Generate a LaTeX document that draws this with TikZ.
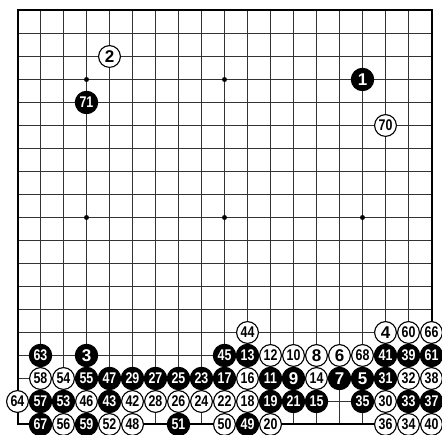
\documentclass[tikz,border=0pt]{standalone}
\usepackage{fontspec}
\setmainfont{Liberation Sans}
\newcommand\stonelabel[1]{\ifnum#1<10 \fontsize{17}{17}\selectfont#1\else\fontsize{15.5}{15.5}\selectfont\scalebox{0.8}[1]{#1}\fi}
\begin{document}
\begin{tikzpicture}[x=1pt,y=1pt,
  gridline/.style={line width=1pt,draw=black!80},
  border/.style={line width=2pt,draw=black},
  star/.style={circle,fill=black,inner sep=0pt,minimum size=5pt},
  bst/.style={circle,fill=black,draw=black,line width=0.8pt,minimum size=22.6pt,inner sep=0pt,text=white,font=\bfseries},
  wst/.style={circle,fill=white,draw=black,line width=1.1pt,minimum size=21.8pt,inner sep=0pt,text=black,font=\bfseries}]
\useasboundingbox (0,0) rectangle (442,435);
\fill[white] (0,0) rectangle (442,435);
% grid
\foreach \i in {1,...,17} {
  \draw[gridline] ({17.5+23*\i},10.5) -- ({17.5+23*\i},424.5);
}
\foreach \i in {1,...,17} {
  \draw[gridline] (17.5,{10.5+23*\i}) -- (431.5,{10.5+23*\i});
}
\draw[border] (17.5,10.5) rectangle (431.5,424.5);
% star points
\foreach \c/\r [count=\k] in {4/4,10/4,16/4,4/10,10/10,16/10,4/16,10/16,16/16}
  \node[star] (hoshi\k) at ({17.5+23*(\c-1)},{424.5-23*(\r-1)}) {};
% stones
\foreach \n/\c/\r/\s in {
 1/16/4/bst, 2/5/3/wst, 3/4/16/bst, 4/17/15/wst, 5/16/17/bst, 6/15/16/wst,
 7/15/17/bst, 8/14/16/wst, 9/13/17/bst, 10/13/16/wst, 11/12/17/bst, 12/12/16/wst,
 13/11/16/bst, 14/14/17/wst, 15/14/18/bst, 16/11/17/wst, 17/10/17/bst, 18/11/18/wst,
 19/12/18/bst, 20/12/19/wst, 21/13/18/bst, 22/10/18/wst, 23/9/17/bst, 24/9/18/wst,
 25/8/17/bst, 26/8/18/wst, 27/7/17/bst, 28/7/18/wst, 29/6/17/bst, 30/17/18/wst,
 31/17/17/bst, 32/18/17/wst, 33/18/18/bst, 34/18/19/wst, 35/16/18/bst, 36/17/19/wst,
 37/19/18/bst, 38/19/17/wst, 39/18/16/bst, 40/19/19/wst, 41/17/16/bst, 42/6/18/wst,
 43/5/18/bst, 44/11/15/wst, 45/10/16/bst, 46/4/18/wst, 47/5/17/bst, 48/6/19/wst,
 49/11/19/bst, 50/10/19/wst, 51/8/19/bst, 52/5/19/wst, 53/3/18/bst, 54/3/17/wst,
 55/4/17/bst, 56/3/19/wst, 57/2/18/bst, 58/2/17/wst, 59/4/19/bst, 60/18/15/wst,
 61/19/16/bst, 63/2/16/bst, 64/1/18/wst, 66/19/15/wst, 67/2/19/bst, 68/16/16/wst,
 70/17/6/wst, 71/4/5/bst}
  \node[\s] (m\n) at ({17.5+23*(\c-1)},{424.5-23*(\r-1)}) {\stonelabel{\n}};
\end{tikzpicture}
\end{document}
